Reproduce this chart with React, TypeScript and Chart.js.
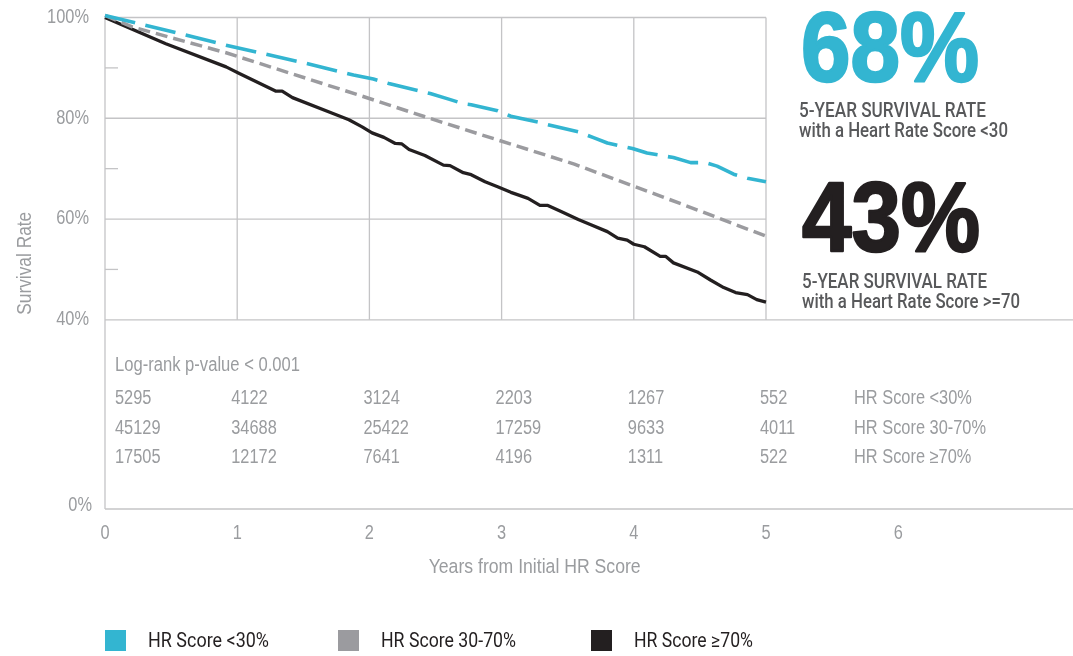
import React, { useEffect, useRef } from 'react';
import { Chart, registerables } from 'chart.js';

Chart.register(...registerables);

const FONT = '"Liberation Sans", Arial, sans-serif';
const FONT_MED = 'Roboto, "Liberation Sans", Arial, sans-serif';
const SX = 0.84; // horizontal condensing to mimic the condensed face

const SERIES_NAMES = ['HR Score <30%', 'HR Score 30-70%', 'HR Score ≥70%'];
const SERIES_COLORS = ['#33b5d1', '#9b9b9f', '#231f20'];

// HR Score <30%
const LOW_T = [0, 0.565, 0.916, 1.52, 1.88, 2.03, 2.147, 2.46, 2.6, 2.71, 2.77, 2.97, 3.07, 3.175, 3.28, 3.4, 3.58, 3.7, 3.8, 3.99, 4.1, 4.3, 4.43, 4.54, 4.63, 4.755, 4.86, 5.0];
const LOW_V = [100.4, 96.8, 94.5, 90.9, 88.6, 87.8, 86.9, 84.9, 83.8, 82.9, 82.7, 81.5, 80.4, 79.8, 79.2, 78.4, 77.3, 76.1, 75.1, 74.0, 73.1, 72.2, 71.2, 71.2, 70.5, 68.9, 68.1, 67.4];

// HR Score 30-70%
const MID_T = [0, 0.21, 0.916, 1.92, 2.42, 2.97, 3.55, 3.98, 4.35, 5.0];
const MID_V = [100.4, 98.1, 93.0, 84.6, 80.3, 75.7, 70.9, 66.7, 63.1, 56.6];

// HR Score >=70%
const HIGH_T = [0, 0.46, 0.916, 1.016, 1.29, 1.34, 1.418, 1.72, 1.845, 1.945, 2.02, 2.11, 2.196, 2.246, 2.3, 2.42, 2.56, 2.61, 2.71, 2.77, 2.875, 2.97, 3.07, 3.125, 3.2, 3.29, 3.35, 3.45, 3.58, 3.68, 3.8, 3.878, 3.95, 4.0, 4.08, 4.2, 4.24, 4.3, 4.48, 4.58, 4.68, 4.77, 4.86, 4.93, 5.0];
const HIGH_V = [100, 94.8, 90.2, 88.9, 85.4, 85.4, 84.1, 81.0, 79.7, 78.3, 77.1, 76.2, 75.0, 74.9, 73.8, 72.6, 70.7, 70.6, 69.2, 68.8, 67.4, 66.4, 65.3, 64.8, 64.1, 62.7, 62.7, 61.5, 59.9, 58.8, 57.5, 56.2, 55.8, 55.0, 54.5, 52.6, 52.6, 51.3, 49.5, 47.9, 46.4, 45.4, 45.0, 44.0, 43.5];

const X_TICKS = [0, 1, 2, 3, 4, 5, 6];
const GRID_YEARS = [0, 1, 2, 3, 4, 5];
const Y_TICKS_UPPER = [40, 60, 80, 100];
const Y_TICKS_LOWER = [0];
const Y_MINOR = [50, 70, 90];

const AT_RISK_LOW = [5295, 4122, 3124, 2203, 1267, 552];
const AT_RISK_MID = [45129, 34688, 25422, 17259, 9633, 4011];
const AT_RISK_HIGH = [17505, 12172, 7641, 4196, 1311, 522];

const PVALUE_TEXT = 'Log-rank p-value < 0.001';
const CALLOUT_VALUES = ['68%', '43%'];
const CALLOUT_LINE1 = '5-YEAR SURVIVAL RATE';
const CALLOUT_LINE2 = ['with a Heart Rate Score <30', 'with a Heart Rate Score >=70'];
const Y_TITLE = 'Survival Rate';
const X_TITLE = 'Years from Initial HR Score';

const GRID_COLOR = '#c4c4c6';
const AXIS_TEXT = '#9a9c9f';
const CALLOUT_TEXT = '#58595b';

const toPoints = (ts: number[], vs: number[]) => ts.map((t, i) => ({ x: t, y: vs[i] }));

type TextOpts = {
  size: number;
  color: string;
  align?: CanvasTextAlign;
  baseline?: CanvasTextBaseline;
  weight?: string;
  family?: string;
  sx?: number;
  w?: number;
  rot?: number;
};

function text(ctx: CanvasRenderingContext2D, s: string, x: number, y: number, o: TextOpts) {
  ctx.save();
  ctx.font = `${o.weight ?? 'normal'} ${o.size}px ${o.family ?? FONT}`;
  let sx = o.sx ?? SX;
  if (o.w) sx = o.w / ctx.measureText(s).width;
  ctx.translate(x, y);
  if (o.rot) ctx.rotate(o.rot);
  ctx.scale(sx, 1);
  ctx.fillStyle = o.color;
  ctx.textAlign = o.align ?? 'left';
  ctx.textBaseline = o.baseline ?? 'middle';
  ctx.fillText(s, 0, 0);
  ctx.restore();
}

const decorPlugin = {
  id: 'decor',
  beforeDatasetsDraw(chart: any) {
    const { ctx } = chart;
    const x = chart.scales.x;
    const y = chart.scales.y;
    const y2 = chart.scales.yLow;
    const W = chart.width;
    const line = (a: number, b: number, c: number, d: number) => {
      ctx.beginPath();
      ctx.moveTo(a, b);
      ctx.lineTo(c, d);
      ctx.stroke();
    };
    ctx.save();
    ctx.strokeStyle = GRID_COLOR;
    ctx.lineWidth = 1.3;
    const x0 = x.getPixelForValue(0);
    const x5 = x.getPixelForValue(5);
    for (const v of Y_TICKS_UPPER) {
      const py = y.getPixelForValue(v);
      line(x0, py, v === 40 ? W : x5, py);
    }
    for (const t of GRID_YEARS) {
      const px = x.getPixelForValue(t);
      line(px, y.getPixelForValue(100), px, t === 0 ? y2.getPixelForValue(0) : y.getPixelForValue(40));
    }
    const pb = y2.getPixelForValue(0);
    line(x0, pb, W, pb);
    for (const v of Y_MINOR) {
      const py = y.getPixelForValue(v);
      line(x0, py, x0 + 13, py);
    }
    ctx.restore();
  },
  afterDraw(chart: any) {
    const { ctx, chartArea } = chart;
    const x = chart.scales.x;
    const y = chart.scales.y;
    const y2 = chart.scales.yLow;

    // tick labels from the scales
    y.ticks.forEach((t: any) =>
      text(ctx, `${t.value}%`, 89, y.getPixelForValue(t.value), { size: 19.5, color: AXIS_TEXT, align: 'right' })
    );
    y2.ticks.forEach((t: any) =>
      text(ctx, `${t.value}%`, 92, y2.getPixelForValue(t.value) - 3, { size: 19.5, color: AXIS_TEXT, align: 'right' })
    );
    x.ticks.forEach((t: any) =>
      text(ctx, String(t.value), x.getPixelForValue(t.value), 534, { size: 19.5, color: AXIS_TEXT, align: 'center' })
    );

    // axis titles
    text(ctx, Y_TITLE, 25, (chartArea.top + chartArea.bottom) / 2, {
      size: 20, color: AXIS_TEXT, align: 'center', rot: -Math.PI / 2, w: 103,
    });
    text(ctx, X_TITLE, (x.getPixelForValue(0) + x.getPixelForValue(6.5)) / 2, 567, {
      size: 20.5, color: AXIS_TEXT, align: 'center', w: 212,
    });

    // at-risk table
    const colX = (i: number) => (i === 0 ? x.getPixelForValue(0) + 10 : x.getPixelForValue(i) - 6);
    text(ctx, PVALUE_TEXT, colX(0), 365, { size: 20, color: AXIS_TEXT, w: 185 });
    const rows = [AT_RISK_LOW, AT_RISK_MID, AT_RISK_HIGH];
    const rowY = [399, 429, 458];
    rows.forEach((r, ri) => {
      r.forEach((n, ci) => text(ctx, String(n), colX(ci), rowY[ri], { size: 19.5, color: AXIS_TEXT }));
      text(ctx, SERIES_NAMES[ri], x.getPixelForValue(5) + 88, rowY[ri], { size: 19.5, color: AXIS_TEXT });
    });

    // callouts
    ctx.save();
    ctx.textBaseline = 'alphabetic';
    ctx.textAlign = 'left';
    ctx.font = `bold 99px ${FONT}`;
    ctx.lineJoin = 'round';
    ctx.lineWidth = 2.5;
    ctx.fillStyle = SERIES_COLORS[0];
    ctx.strokeStyle = SERIES_COLORS[0];
    ctx.fillText(CALLOUT_VALUES[0], 801, 81, 178);
    ctx.strokeText(CALLOUT_VALUES[0], 801, 81, 178);
    ctx.fillStyle = SERIES_COLORS[2];
    ctx.strokeStyle = SERIES_COLORS[2];
    ctx.fillText(CALLOUT_VALUES[1], 802, 251, 178);
    ctx.strokeText(CALLOUT_VALUES[1], 802, 251, 178);
    ctx.restore();
    const co = { size: 19.5, color: CALLOUT_TEXT, baseline: 'alphabetic' as CanvasTextBaseline, family: FONT_MED, weight: '500' };
    text(ctx, CALLOUT_LINE1, 799, 117, { ...co, w: 187 });
    text(ctx, CALLOUT_LINE2[0], 799, 137, { ...co, w: 209 });
    text(ctx, CALLOUT_LINE1, 802, 288, { ...co, w: 185 });
    text(ctx, CALLOUT_LINE2[1], 802, 308, { ...co, w: 218 });

    // legend
    const legX = [105, 338, 591];
    const legW = [121, 135, 119];
    SERIES_NAMES.forEach((name, i) => {
      ctx.fillStyle = SERIES_COLORS[i];
      ctx.fillRect(legX[i], 630, 21, 21);
      text(ctx, name, legX[i] + 43, 642, { size: 20, color: '#231f20', family: FONT_MED, w: legW[i] });
    });
  },
};

export default function App() {
  const ref = useRef<HTMLCanvasElement | null>(null);
  useEffect(() => {
    if (!ref.current) return;
    const chart = new Chart(ref.current, {
      type: 'line',
      data: {
        datasets: [
          {
            label: SERIES_NAMES[0],
            data: toPoints(LOW_T, LOW_V),
            borderColor: SERIES_COLORS[0],
            borderWidth: 3.6,
            borderDash: [31, 10.5],
            yAxisID: 'y',
          },
          {
            label: SERIES_NAMES[1],
            data: toPoints(MID_T, MID_V),
            borderColor: SERIES_COLORS[1],
            borderWidth: 3.5,
            borderDash: [12, 6],
            yAxisID: 'y',
          },
          {
            label: SERIES_NAMES[2],
            data: toPoints(HIGH_T, HIGH_V),
            borderColor: SERIES_COLORS[2],
            borderWidth: 3.3,
            yAxisID: 'y',
          },
        ],
      },
      options: {
        animation: false,
        responsive: true,
        maintainAspectRatio: false,
        layout: { padding: { left: 0, top: 17.5, right: 108.7, bottom: 67 } },
        elements: { point: { radius: 0 }, line: { tension: 0, borderCapStyle: 'butt', borderJoinStyle: 'round' } },
        datasets: { line: { clip: false } } as any,
        plugins: { legend: { display: false }, tooltip: { enabled: false } },
        scales: {
          x: {
            type: 'linear',
            min: 0,
            max: 6.5,
            afterBuildTicks: (s: any) => { s.ticks = X_TICKS.map((v) => ({ value: v })); },
            afterFit: (s: any) => { s.height = 80; },
            grid: { display: false, drawTicks: false },
            border: { display: false },
            ticks: { display: false },
          },
          y: {
            type: 'linear',
            position: 'left',
            stack: 'surv',
            stackWeight: 302,
            weight: 1,
            min: 40,
            max: 100,
            afterBuildTicks: (s: any) => { s.ticks = Y_TICKS_UPPER.map((v) => ({ value: v })); },
            afterFit: (s: any) => { s.width = 105; },
            grid: { display: false, drawTicks: false },
            border: { display: false },
            ticks: { display: false },
          },
          yLow: {
            type: 'linear',
            position: 'left',
            stack: 'surv',
            stackWeight: 189,
            weight: 0,
            min: 0,
            max: 40,
            afterBuildTicks: (s: any) => { s.ticks = Y_TICKS_LOWER.map((v) => ({ value: v })); },
            afterFit: (s: any) => { s.width = 105; },
            grid: { display: false, drawTicks: false },
            border: { display: false },
            ticks: { display: false },
          },
        },
      } as any,
      plugins: [decorPlugin],
    });
    return () => chart.destroy();
  }, []);
  return (
    <div style={{ position: 'absolute', left: 0, top: 0, width: 1073, height: 656, background: '#fff' }}>
      <canvas ref={ref} />
    </div>
  );
}
